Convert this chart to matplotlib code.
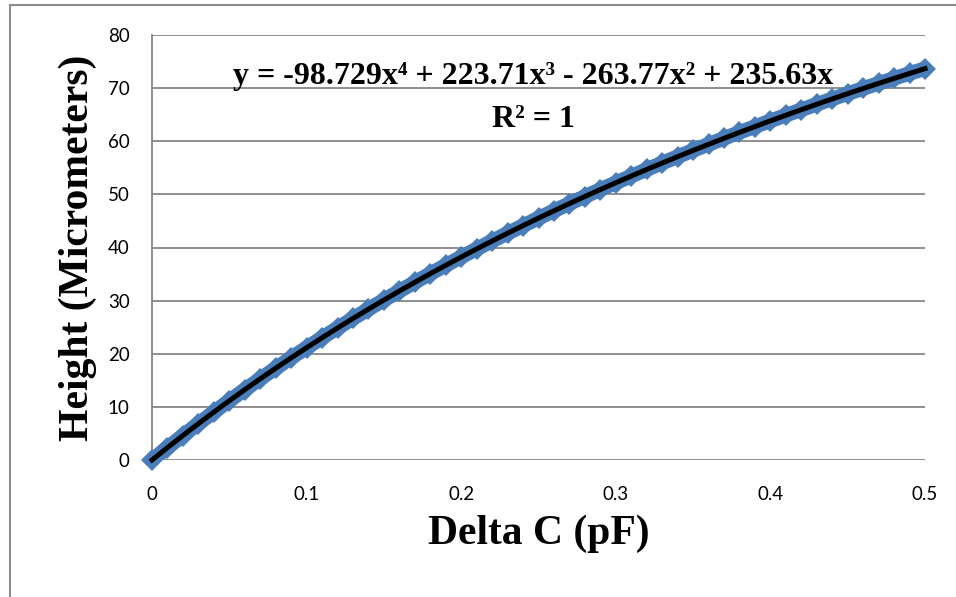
import numpy as np
import matplotlib.pyplot as plt
from matplotlib.lines import Line2D

# Delta C (pF) vs height (um), every 0.01 pF
delta_c = [0.00, 0.01, 0.02, 0.03, 0.04, 0.05, 0.06, 0.07, 0.08, 0.09,
           0.10, 0.11, 0.12, 0.13, 0.14, 0.15, 0.16, 0.17, 0.18, 0.19,
           0.20, 0.21, 0.22, 0.23, 0.24, 0.25, 0.26, 0.27, 0.28, 0.29,
           0.30, 0.31, 0.32, 0.33, 0.34, 0.35, 0.36, 0.37, 0.38, 0.39,
           0.40, 0.41, 0.42, 0.43, 0.44, 0.45, 0.46, 0.47, 0.48, 0.49,
           0.50]
height = [0.00, 2.33, 4.61, 6.84, 9.02, 11.15, 13.24, 15.28, 17.27, 19.23,
          21.14, 23.01, 24.84, 26.64, 28.39, 30.11, 31.80, 33.45, 35.07, 36.65,
          38.21, 39.73, 41.22, 42.69, 44.12, 45.53, 46.91, 48.27, 49.60, 50.91,
          52.19, 53.45, 54.69, 55.90, 57.10, 58.27, 59.42, 60.55, 61.67, 62.76,
          63.84, 64.90, 65.94, 66.96, 67.97, 68.96, 69.93, 70.89, 71.83, 72.76,
          73.67]

x_ticks = [0, 0.1, 0.2, 0.3, 0.4, 0.5]
x_labels = ['0', '0.1', '0.2', '0.3', '0.4', '0.5']
y_ticks = [0, 10, 20, 30, 40, 50, 60, 70, 80]

eq_text = 'y = -98.729x\u2074 + 223.71x\u00b3 - 263.77x\u00b2 + 235.63x'
r2_text = 'R\u00b2 = 1'

serif = ['Liberation Serif', 'DejaVu Serif']
grid_col = '#868686'
blue = '#4A7EBB'

fig = plt.figure(figsize=(9.56, 5.97), dpi=100)
ax = fig.add_axes([152 / 956, 1 - 460 / 597, (925 - 152) / 956, (460 - 35) / 597])

# series markers (dense diamonds) and the polynomial trendline
ax.plot(delta_c, height, color=blue, lw=10.5, solid_capstyle='butt', zorder=3)
ax.plot(delta_c, height, linestyle='none', marker='D', markersize=11,
        color=blue, markeredgewidth=0, zorder=3, clip_on=False)
ax.plot(delta_c, height, color='black', lw=3.6, zorder=4, clip_on=False)

ax.set_xlim(0, 0.5)
ax.set_ylim(0, 80)
ax.set_xticks(x_ticks)
ax.set_xticklabels(x_labels)
ax.set_yticks(y_ticks)
ax.tick_params(length=0, labelsize=13.5, colors='black')
ax.tick_params(axis='x', pad=19)
ax.tick_params(axis='y', pad=16)
for lab in ax.get_xticklabels() + ax.get_yticklabels():
    lab.set_family(['Lato', 'DejaVu Sans'])

ax.grid(axis='y', color=grid_col, lw=1.3)
ax.set_axisbelow(True)
for s in ['top', 'right', 'bottom']:
    ax.spines[s].set_visible(False)
ax.spines['left'].set_color(grid_col)
ax.spines['left'].set_linewidth(1.3)

ax.set_xlabel('Delta C (pF)', family=serif, fontweight='bold', fontsize=30, labelpad=8)
ax.set_ylabel('Height (Micrometers)', family=serif, fontweight='bold', fontsize=30, labelpad=8)

fig.text(533 / 956, 1 - 84 / 597, eq_text, family=serif, fontweight='bold',
         fontsize=23, ha='center', va='baseline')
fig.text(533 / 956, 1 - 127 / 597, r2_text, family=serif, fontweight='bold',
         fontsize=23, ha='center', va='baseline')

# outer chart-area border (only top and left visible in the crop)
fig.add_artist(Line2D([10 / 956, 1], [1 - 5 / 597, 1 - 5 / 597],
                      transform=fig.transFigure, color='#8c8c8c', lw=1.5))
fig.add_artist(Line2D([10 / 956, 10 / 956], [0, 1 - 5 / 597],
                      transform=fig.transFigure, color='#8c8c8c', lw=1.5))

fig.savefig('out.png', dpi=100)
